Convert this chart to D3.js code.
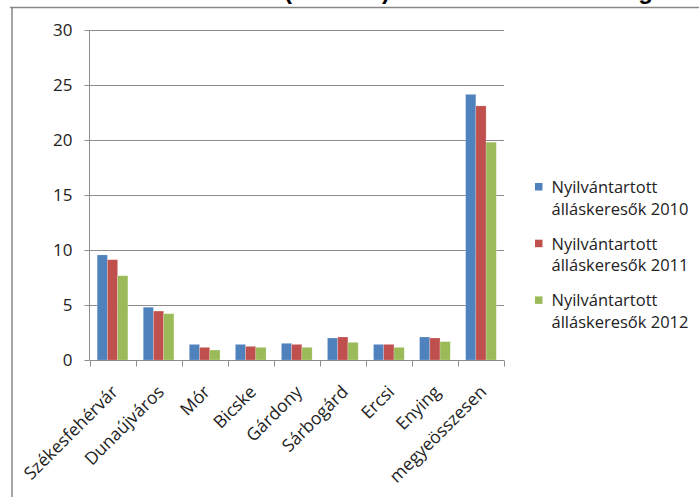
<!DOCTYPE html>
<html><head><meta charset="utf-8">
<script src="https://cdn.jsdelivr.net/npm/d3@7"></script>
<style>
html,body{margin:0;padding:0;background:#fff;}
svg{display:block;font-family:"Open Sans",sans-serif;}
</style></head>
<body>
<svg id="c" width="699" height="497"></svg>
<script>
const categories = ["Székesfehérvár","Dunaújváros","Mór","Bicske","Gárdony","Sárbogárd","Ercsi","Enying","megyeösszesen"];
const seriesNames = ["Nyilvántartott álláskeresők 2010","Nyilvántartott álláskeresők 2011","Nyilvántartott álláskeresők 2012"];
const values2010 = [9.55, 4.8, 1.42, 1.42, 1.52, 2.0, 1.42, 2.09, 24.15];
const values2011 = [9.12, 4.45, 1.15, 1.24, 1.42, 2.09, 1.42, 2.0, 23.1];
const values2012 = [7.66, 4.21, 0.91, 1.15, 1.15, 1.6, 1.15, 1.67, 19.8];
const yTicks = [0,5,10,15,20,25,30];
const colors = ["#4F81BD","#C0504D","#9BBB59"];
const series = [values2010, values2011, values2012];

const svg = d3.select("#c");
// frame
svg.append("line").attr("x1",10).attr("x2",699).attr("y1",7.5).attr("y2",7.5).attr("stroke","#878787").attr("stroke-width",1.5);
svg.append("line").attr("x1",12).attr("x2",12).attr("y1",7).attr("y2",497).attr("stroke","#878787").attr("stroke-width",1.5);
// title (cut off at top edge, as in the reference)
const tf = "Liberation Sans, Arial, sans-serif";
svg.append("text").attr("x",284).attr("y",-1).attr("text-anchor","end")
  .attr("font-weight","bold").attr("font-size",24).attr("font-family",tf)
  .text("Álláskeresők száma ");
svg.append("text").attr("x",284).attr("y",-1)
  .attr("font-weight","bold").attr("font-size",24).attr("font-family",tf)
  .attr("textLength",106).attr("lengthAdjust","spacing")
  .text("(ezer fő)");
svg.append("text").attr("x",653).attr("y",-1).attr("text-anchor","end")
  .attr("font-weight","bold").attr("font-size",24).attr("font-family",tf)
  .text("a munkanélküliség");

const x0 = d3.scaleBand().domain(categories).range([89.5,504]).paddingInner(0).paddingOuter(0);
const x1 = d3.scaleBand().domain([0,1,2]).range([0,x0.bandwidth()]).paddingInner(0).paddingOuter(0.75);
const y = d3.scaleLinear().domain([0,30]).range([360,30]);

// gridlines
svg.append("g").selectAll("line").data(yTicks.filter(d=>d>0)).join("line")
  .attr("x1",89.5).attr("x2",504).attr("y1",d=>Math.round(y(d))+0.5).attr("y2",d=>Math.round(y(d))+0.5)
  .attr("stroke","#8c8c8c").attr("stroke-width",1);

// bars
const g = svg.append("g");
series.forEach((vals,si)=>{
  g.selectAll(".b"+si).data(vals).join("rect")
    .attr("x",(d,i)=>x0(categories[i])+x1(si))
    .attr("y",d=>y(d))
    .attr("width",x1.bandwidth())
    .attr("height",d=>y(0)-y(d))
    .attr("fill",colors[si])
    .attr("stroke","rgba(255,255,255,0.35)").attr("stroke-width",0.6);
});

// y axis
const ya = svg.append("g").attr("transform","translate(89.5,0)")
  .call(d3.axisLeft(y).tickValues(yTicks).tickSize(5).tickPadding(12));
ya.select(".domain").attr("stroke","#8c8c8c").attr("d","M0,30V360");
ya.selectAll(".tick line").attr("stroke","#8c8c8c");
ya.selectAll(".tick text").attr("font-size",17).attr("fill","#222").attr("font-family","Open Sans, sans-serif");

// x axis
const xa = svg.append("g").attr("transform","translate(0,360.5)");
xa.append("line").attr("x1",89.5).attr("x2",504).attr("stroke","#8c8c8c");
const bounds = categories.map(c=>x0(c)).concat([x0(categories[categories.length-1])+x0.bandwidth()]);
xa.selectAll(".t").data(bounds).join("line")
  .attr("x1",d=>Math.round(d)+0.5).attr("x2",d=>Math.round(d)+0.5).attr("y1",0).attr("y2",6).attr("stroke","#8c8c8c");
svg.append("g").selectAll("text").data(categories).join("text")
  .attr("transform",d=>`translate(${x0(d)+x0.bandwidth()/2+6.5},${393}) rotate(-45)`)
  .attr("text-anchor","end")
  .attr("font-size",17.5).attr("fill","#222").attr("font-family","Open Sans, sans-serif")
  .text(d=>d);

// legend
const lg = svg.append("g");
seriesNames.forEach((s,i)=>{
  const by = 193 + i*56.7;
  lg.append("rect").attr("x",535).attr("y",by-10).attr("width",7.5).attr("height",7.5).attr("fill",colors[i]);
  const t = lg.append("text").attr("x",551.5).attr("y",by).attr("font-size",16.5).attr("fill","#222").attr("font-family","Open Sans, sans-serif");
  const parts = s.split(" ");
  t.append("tspan").attr("x",551.5).text(parts[0]);
  t.append("tspan").attr("x",551.5).attr("dy",21.7).text(parts.slice(1).join(" "));
});
</script>
</body></html>
